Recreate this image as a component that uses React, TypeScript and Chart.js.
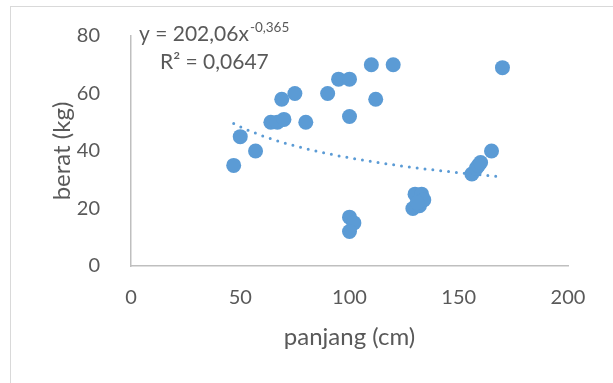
import React, { useEffect, useRef } from "react";
import { Chart, registerables } from "chart.js";

Chart.register(...registerables);

// Data
const panjang: number[] = [47, 50, 57, 64, 67, 70, 69, 75, 80, 90, 95, 100, 100, 110, 120, 112, 170, 165, 156, 158, 159, 160, 100, 102, 100, 129, 130, 132, 133, 134, 131];
const berat: number[] = [35, 45, 40, 50, 50, 51, 58, 60, 50, 60, 65, 65, 52, 70, 70, 58, 69, 40, 32, 34, 35, 36, 17, 15, 12, 20, 25, 21, 25, 23, 22];

// Trendline shown in the chart: y = 202,06 x^-0,365
const TREND_COEF = 202.06;
const TREND_EXP = -0.365;
const TREND_X_START = 47;
const TREND_X_END = 170;
const TREND_LABEL_MAIN = "y = 202,06x";
const TREND_LABEL_SUP = "-0,365";
const R2_LABEL = "R² = 0,0647";

const X_TICKS = [0, 50, 100, 150, 200];
const Y_TICKS = [0, 20, 40, 60, 80];
const X_TITLE = "panjang (cm)";
const Y_TITLE = "berat (kg)";

const FONT = "Lato, 'Liberation Sans', sans-serif";
const TEXT_COLOR = "#595959";
const BLUE = "#5B9BD5";

export default function App() {
  const ref = useRef<HTMLCanvasElement | null>(null);

  useEffect(() => {
    if (!ref.current) return;
    const points = panjang.map((x, i) => ({ x, y: berat[i] }));
    const trend: { x: number; y: number }[] = [];
    for (let x = TREND_X_START; x <= TREND_X_END; x += 1) {
      trend.push({ x, y: TREND_COEF * Math.pow(x, TREND_EXP) });
    }

    const framePlugin = {
      id: "frame",
      beforeDraw(chart: any) {
        const ctx = chart.ctx;
        ctx.save();
        ctx.strokeStyle = "#D9D9D9";
        ctx.lineWidth = 1;
        ctx.strokeRect(10.5, 6.5, 800, 600);
        ctx.restore();
      },
      afterDraw(chart: any) {
        const ctx = chart.ctx;
        ctx.save();
        ctx.fillStyle = TEXT_COLOR;
        ctx.textBaseline = "alphabetic";
        ctx.textAlign = "left";
        ctx.font = `21px ${FONT}`;
        ctx.fillText(TREND_LABEL_MAIN, 139, 40.5);
        const w = ctx.measureText(TREND_LABEL_MAIN).width;
        ctx.font = `13.5px ${FONT}`;
        ctx.fillText(TREND_LABEL_SUP, 139 + w + 1, 31.5);
        ctx.font = `21px ${FONT}`;
        ctx.fillText(R2_LABEL, 160, 68.5);
        ctx.restore();
      },
    };

    const chart = new Chart(ref.current, {
      type: "scatter",
      data: {
        datasets: [
          {
            data: points,
            backgroundColor: BLUE,
            borderColor: BLUE,
            borderWidth: 0,
            pointRadius: 7.5,
            pointHoverRadius: 7.5,
          },
          {
            data: trend,
            showLine: true,
            borderColor: BLUE,
            borderWidth: 3,
            borderDash: [0, 7.9],
            borderCapStyle: "round",
            pointRadius: 0,
            fill: false,
          } as any,
        ],
      },
      options: {
        animation: false,
        responsive: false,
        maintainAspectRatio: false,
        layout: { padding: { top: 36, right: 45, left: 0, bottom: 0 } },
        plugins: { legend: { display: false }, tooltip: { enabled: false } },
        scales: {
          x: {
            type: "linear",
            min: 0,
            max: 200,
            afterBuildTicks: (s: any) => {
              s.ticks = X_TICKS.map((v) => ({ value: v }));
            },
            afterFit: (s: any) => {
              s.height = 117;
            },
            grid: { display: false },
            border: { display: true, color: "#BFBFBF", width: 1.5 },
            ticks: { color: TEXT_COLOR, font: { family: FONT, size: 20 }, padding: 12, maxRotation: 0 },
            title: {
              display: true,
              text: X_TITLE,
              color: TEXT_COLOR,
              font: { family: FONT, size: 24, lineHeight: 1.2 },
              padding: { top: 0, bottom: 31 },
            },
          },
          y: {
            type: "linear",
            min: 0,
            max: 80,
            afterBuildTicks: (s: any) => {
              s.ticks = Y_TICKS.map((v) => ({ value: v }));
            },
            afterFit: (s: any) => {
              s.width = 131;
            },
            grid: { display: false },
            border: { display: true, color: "#BFBFBF", width: 1.5 },
            ticks: { color: TEXT_COLOR, font: { family: FONT, size: 20 }, padding: 23 },
            title: {
              display: true,
              text: Y_TITLE,
              color: TEXT_COLOR,
              font: { family: FONT, size: 24, lineHeight: 1.2 },
              padding: { top: 48, bottom: 0 },
            },
          },
        },
      },
      plugins: [framePlugin],
    });
    return () => chart.destroy();
  }, []);

  return (
    <div style={{ position: "fixed", left: 0, top: 0, width: 613, height: 383, background: "#fff" }}>
      <canvas ref={ref} width={613} height={383} style={{ display: "block" }} />
    </div>
  );
}
